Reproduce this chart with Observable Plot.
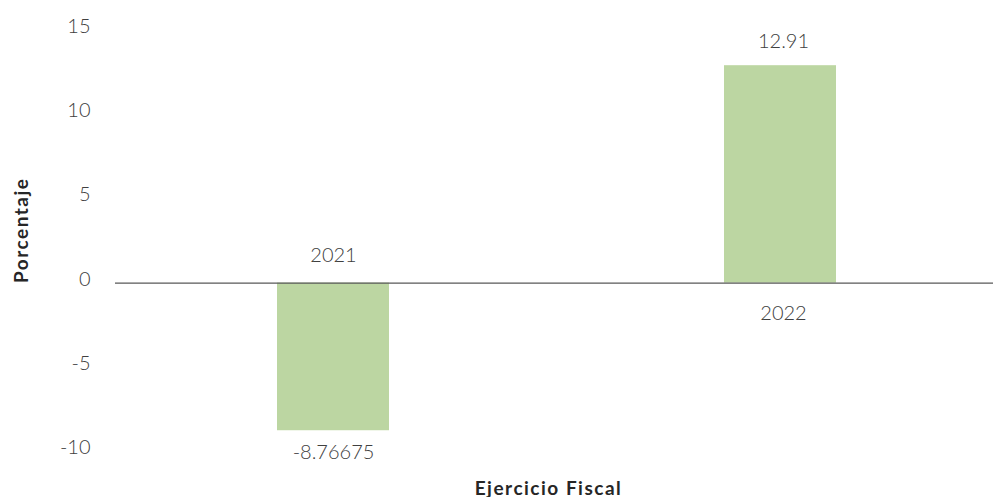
<!DOCTYPE html>
<html>
<head>
<meta charset="utf-8">
<script src="https://cdn.jsdelivr.net/npm/d3@7"></script>
<script src="https://cdn.jsdelivr.net/npm/@observablehq/plot@0.6"></script>
<style>
  html, body { margin: 0; padding: 0; background: #ffffff; }
  #chart svg { display: block; }
</style>
</head>
<body>
<div id="chart"></div>
<script>
const years = ["2021", "2022"];
const values = [-8.76675, 12.91];
const valueLabels = ["-8.76675", "12.91"];
const yTicks = [-10, -5, 0, 5, 10, 15];
const yTitle = "Porcentaje";
const xTitle = "Ejercicio Fiscal";

const data = years.map((y, i) => ({year: y, value: values[i], label: valueLabels[i]}));
const neg = data.filter(d => d.value < 0);
const pos = data.filter(d => d.value >= 0);

const textColor = "#404040";
const font = "Lato, 'Open Sans', sans-serif";

const xRange = [109.5, 1003.5];
const padIn = 0.75, padOut = 0.375;

const txt = {fontSize: 20, fontWeight: 300, fill: textColor};

const chart = Plot.plot({
  width: 993,
  height: 497,
  marginLeft: 115,
  marginRight: 0,
  marginTop: 30,
  marginBottom: 46,
  style: {fontFamily: font, color: textColor, background: "#ffffff"},
  x: {domain: years, range: xRange, paddingInner: padIn, paddingOuter: padOut, axis: null},
  y: {domain: [-10, 15], ticks: yTicks, axis: null},
  marks: [
    Plot.axisY({ticks: yTicks, tickSize: 0, tickPadding: 25, fontSize: 20, fontWeight: 300, dy: -4,
      label: null, fill: textColor, tickFormat: d => String(d)}),
    Plot.barY(data, {x: "year", y: "value", fill: "#BCD6A2"}),
    Plot.ruleY([0], {stroke: "#595959", strokeWidth: 1.3}),
    // value labels beyond bar ends
    Plot.text(neg, {x: "year", y: "value", text: "label", dy: 22, ...txt}),
    Plot.text(pos, {x: "year", y: "value", text: "label", dx: 3, dy: -24, ...txt}),
    // category labels at the zero line, opposite side from the bar
    Plot.text(neg, {x: "year", y: () => 0, text: "year", dy: -28, ...txt}),
    Plot.text(pos, {x: "year", y: () => 0, text: "year", dx: 3, dy: 30, ...txt}),
    // axis titles
    Plot.text([yTitle], {frameAnchor: "left", dx: -94, dy: 42, rotate: -90, text: d => d,
      fontSize: 19, fontWeight: "bold", fill: "#262626"}),
    Plot.text([xTitle], {frameAnchor: "bottom", dx: -6, dy: 43, text: d => d,
      fontSize: 19, fontWeight: "bold", fill: "#262626"})
  ]
});

d3.select(chart).selectAll("text")
  .filter(function() { return this.textContent === yTitle || this.textContent === xTitle; })
  .style("letter-spacing", "1.5px");

document.getElementById("chart").appendChild(chart);
</script>
</body>
</html>
